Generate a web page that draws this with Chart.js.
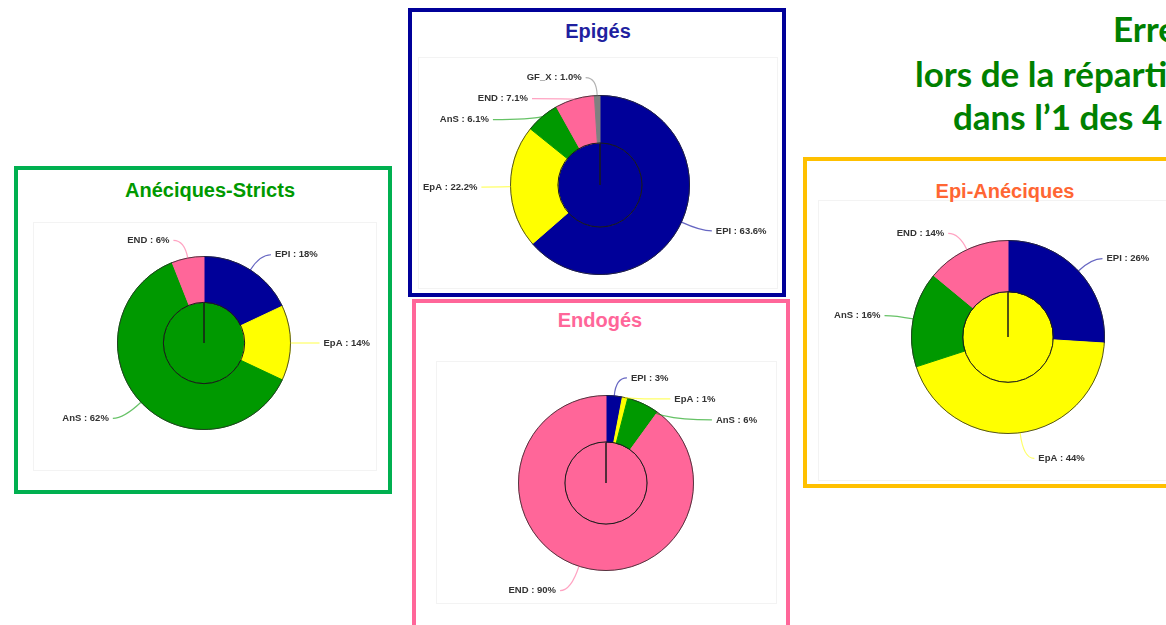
<!DOCTYPE html>
<html lang="fr">
<head>
<meta charset="utf-8">
<script src="https://cdn.jsdelivr.net/npm/chart.js@4.4.1/dist/chart.umd.min.js"></script>
<style>
  body { margin: 0; width: 1166px; height: 625px; overflow: hidden; background: #fff; position: relative; font-family: "Liberation Sans", Arial, sans-serif; }
  .panel { position: absolute; box-sizing: border-box; border: 4px solid; background: #fff; }
  .area { position: absolute; box-sizing: border-box; border: 1px solid #f3f3f3; }
  .title { position: absolute; font-weight: bold; font-size: 20px; transform: translate(-50%, -50%); white-space: nowrap; }
  .head { position: absolute; font-family: Lato, sans-serif; font-weight: bold; font-size: 35px; line-height: 1; color: #008000; white-space: nowrap; }
  canvas { position: absolute; }
</style>
</head>
<body>
  <div class="head" style="left:1113px; top:11px;">Erre</div>
  <div class="head" style="left:915px; top:56px;">lors de la réparti</div>
  <div class="head" style="left:953px; top:99px;">dans l’1 des 4</div>

  <div class="panel" style="left:14px; top:166px; width:378px; height:328px; border-color:#00b050;"></div>
  <div class="panel" style="left:408px; top:8px; width:378px; height:289px; border-color:#000099;"></div>
  <div class="panel" style="left:412px; top:299px; width:378px; height:345px; border-color:#ff6699;"></div>
  <div class="panel" style="left:803px; top:157px; width:400px; height:331px; border-color:#ffc000;"></div>

  <div class="area" style="left:33px; top:222px; width:344px; height:249px;"></div>
  <div class="area" style="left:418px; top:57px; width:360px; height:232px;"></div>
  <div class="area" style="left:436px; top:361px; width:341px; height:243px;"></div>
  <div class="area" style="left:818px; top:200px; width:360px; height:281px;"></div>

  <div class="title" style="left:210px; top:190px; color:#009900;">Anéciques-Stricts</div>
  <div class="title" style="left:598px; top:31px; color:#1f1fa0;">Epigés</div>
  <div class="title" style="left:600px; top:320px; color:#ff6699;">Endogés</div>
  <div class="title" style="left:1005px; top:191px; color:#ff6633;">Epi-Anéciques</div>

  <canvas id="aneciques" width="380" height="280" style="left:14px; top:203px;"></canvas>
  <canvas id="epiges" width="380" height="280" style="left:410px; top:45px;"></canvas>
  <canvas id="endoges" width="380" height="280" style="left:416px; top:343px;"></canvas>
  <canvas id="epianeciques" width="380" height="280" style="left:818px; top:197px;"></canvas>

<script>
const categories = ["EPI", "EpA", "AnS", "END", "GF_X"];
const aneciquesStricts = [18, 14, 62, 6];
const epiges = [63.6, 22.2, 6.1, 7.1, 1.0];
const endoges = [3, 1, 6, 90];
const epiAneciques = [26, 44, 16, 14];

const sliceColors = ["#000099", "#ffff00", "#009900", "#ff6699", "#808080"];

// dark rims: outer ring edge and inner disc edge
const ringOutline = {
  id: "ringOutline",
  afterDatasetsDraw(chart) {
    const ctx = chart.ctx;
    const outer = chart.getDatasetMeta(0).data[0];
    const inner = chart.getDatasetMeta(1).data[0];
    ctx.save();
    ctx.lineWidth = 1;
    ctx.strokeStyle = "rgba(40,40,40,0.8)";
    ctx.beginPath();
    ctx.arc(outer.x, outer.y, outer.outerRadius, 0, Math.PI * 2);
    ctx.stroke();
    ctx.strokeStyle = "#1a1a1a";
    ctx.beginPath();
    ctx.arc(inner.x, inner.y, inner.outerRadius, 0, Math.PI * 2);
    ctx.stroke();
    ctx.restore();
  }
};

// "CAT : xx%" labels with leader lines
const pieLabels = {
  id: "pieLabels",
  afterDatasetsDraw(chart, args, opts) {
    const ctx = chart.ctx;
    const meta = chart.getDatasetMeta(0);
    const values = chart.data.datasets[0].data;
    const items = meta.data.map((arc, i) => {
      const mid = (arc.startAngle + arc.endAngle) / 2;
      const r = arc.outerRadius;
      const c = Math.cos(mid), s = Math.sin(mid);
      const kr = r + 18 + (s > 0 ? 8 * s : 0);
      return {
        i, side: c >= 0 ? 1 : -1,
        ex: arc.x + c * r, ey: arc.y + s * r,
        kx: arc.x + c * kr, ky: arc.y + s * kr
      };
    });
    [1, -1].forEach(side => {
      let last = -Infinity;
      items.filter(it => it.side === side).sort((a, b) => a.ky - b.ky).forEach(it => {
        it.ly = Math.max(it.ky, last + 21);
        last = it.ly;
      });
    });
    ctx.save();
    items.forEach(it => {
      const leg = 11 + Math.min((it.ly - it.ky) * 1.6, 50);
      ctx.globalAlpha = 0.6;
      ctx.strokeStyle = sliceColors[it.i];
      ctx.lineWidth = 1.2;
      ctx.beginPath();
      ctx.moveTo(it.ex, it.ey);
      ctx.quadraticCurveTo(it.kx, it.ly, it.kx + it.side * leg, it.ly);
      ctx.stroke();
      ctx.globalAlpha = 1;
      ctx.fillStyle = "#333";
      ctx.font = "bold 9.5px 'Liberation Sans', Arial, sans-serif";
      ctx.textBaseline = "middle";
      ctx.textAlign = it.side > 0 ? "left" : "right";
      const txt = categories[it.i] + " : " + values[it.i].toFixed(opts.decimals) + "%";
      ctx.fillText(txt, it.kx + it.side * (leg + 4), it.ly);
    });
    ctx.restore();
  }
};

function makeChart(id, values, innerColor, radius, decimals) {
  const canvas = document.getElementById(id);
  const padX = canvas.width / 2 - radius;
  const padY = canvas.height / 2 - radius;
  return new Chart(canvas, {
    type: "doughnut",
    data: {
      labels: categories.slice(0, values.length),
      datasets: [
        {
          data: values,
          backgroundColor: sliceColors.slice(0, values.length),
          borderColor: sliceColors.slice(0, values.length),
          borderWidth: 1,
          weight: 53
        },
        {
          data: [1],
          backgroundColor: innerColor,
          borderColor: "#1a1a1a",
          borderWidth: 1,
          weight: 47
        }
      ]
    },
    options: {
      responsive: false,
      animation: false,
      cutout: 0,
      layout: { padding: { left: padX, right: padX, top: padY, bottom: padY } },
      plugins: {
        legend: { display: false },
        tooltip: { enabled: false },
        pieLabels: { decimals: decimals }
      }
    },
    plugins: [ringOutline, pieLabels]
  });
}

makeChart("aneciques", aneciquesStricts, sliceColors[2], 87, 0);
makeChart("epiges", epiges, sliceColors[0], 90, 1);
makeChart("endoges", endoges, sliceColors[3], 88, 0);
makeChart("epianeciques", epiAneciques, sliceColors[1], 97, 0);
</script>
</body>
</html>
